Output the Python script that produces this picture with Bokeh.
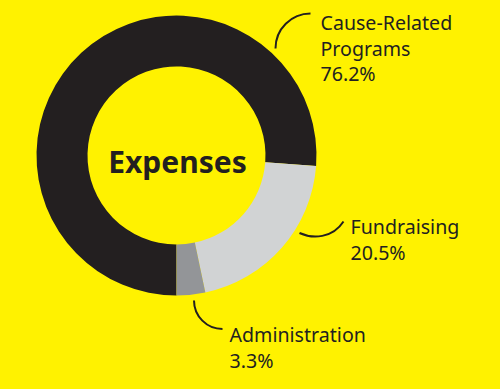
import numpy as np
from bokeh.plotting import figure
from bokeh.models import Range1d
from bokeh.core.properties import value
from bokeh.embed import file_html
from bokeh.resources import INLINE

# ---- data ----
categories = ["Cause-Related Programs", "Fundraising", "Administration"]
percents = [76.2, 20.5, 3.3]
slice_colors = ["#231F20", "#D1D3D4", "#939598"]
label_lines = [["Cause-Related", "Programs", "76.2%"],
               ["Fundraising", "20.5%"],
               ["Administration", "3.3%"]]
center_title = "Expenses"

# ---- layout (page pixels, y measured from top) ----
W, H = 500, 389
BG = "#FFF200"
INK = "#231F20"
cx, cy = 176, 155
r_out, r_in = 140, 89

p = figure(width=W, height=H, x_range=Range1d(0, W), y_range=Range1d(0, H),
           output_backend="svg", toolbar_location=None, min_border=0,
           x_axis_type=None, y_axis_type=None,
           background_fill_color=BG, border_fill_color=BG, outline_line_color=None)
p.xgrid.visible = False
p.ygrid.visible = False

def Y(y):
    return H - y

fr = np.array(percents) / sum(percents)
cum = np.concatenate([[0.0], np.cumsum(fr)])
starts = -np.pi / 2 - 2 * np.pi * cum[:-1]
ends = -np.pi / 2 - 2 * np.pi * cum[1:]

p.annular_wedge(x=[cx] * len(percents), y=[Y(cy)] * len(percents),
                inner_radius=r_in, outer_radius=r_out,
                start_angle=list(starts), end_angle=list(ends), direction="clock",
                fill_color=slice_colors, line_color=None)

# connector lines
p.arc(x=310, y=Y(48), radius=35, start_angle=np.pi / 2, end_angle=np.pi,
      line_color=INK, line_width=2)
p.arc(x=222, y=Y(300), radius=28.5, start_angle=np.pi, end_angle=1.5 * np.pi,
      line_color=INK, line_width=2)
p.bezier(x0=299, y0=Y(232.5), x1=343, y1=Y(221), cx0=312, cy0=Y(238.5),
         cx1=332, cy1=Y(238), line_color=INK, line_width=2)

# labels
label_pos = [(320, [22, 47.5, 73]), (350, [226, 252]), (229, [334, 360])]
xs, ys, ts = [], [], []
for (lx, bys), lines in zip(label_pos, label_lines):
    for by, t in zip(bys, lines):
        xs.append(lx); ys.append(Y(by)); ts.append(t)
p.text(x=xs, y=ys, text=ts, text_font=value("Noto Sans"), text_font_size="19.6px",
       text_color=INK, text_align="left", text_baseline="alphabetic")

p.text(x=[cx + 1], y=[Y(161)], text=[center_title], text_font=value("Noto Sans"),
       text_font_size="30px", text_font_style="bold", text_color=INK,
       text_align="center", text_baseline="alphabetic")

tmpl = """{% block preamble %}<style>html,body{margin:0 !important;padding:0 !important;background:#FFF200;overflow:hidden;}</style>{% endblock %}"""
html = file_html(p, INLINE, "Expenses", template=tmpl)
open("out.html", "w").write(html)
